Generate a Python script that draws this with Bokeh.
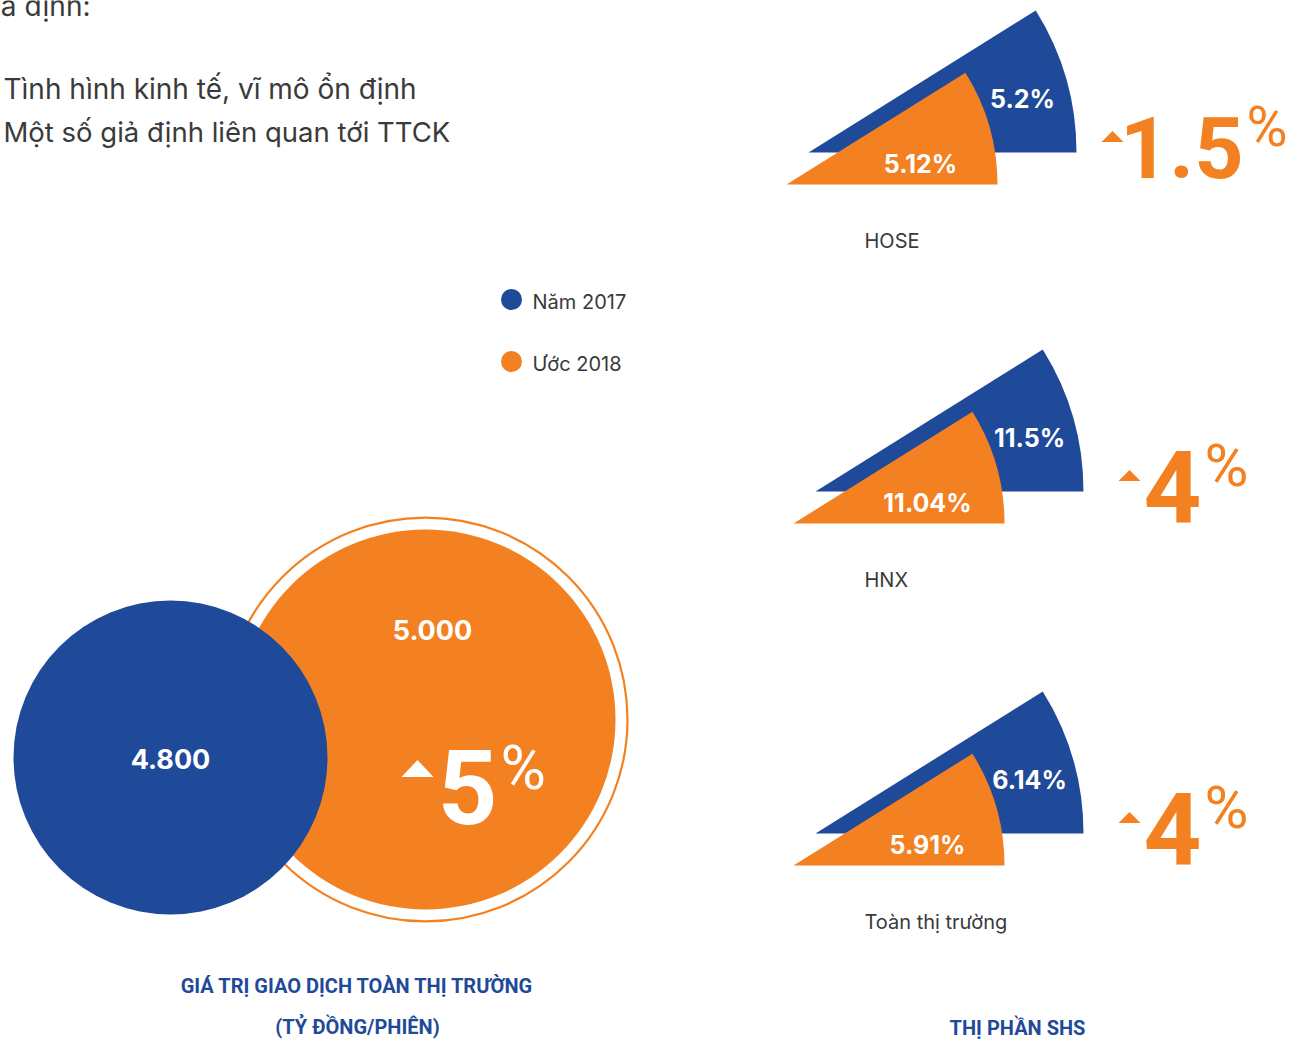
from bokeh.plotting import figure
from bokeh.models import Range1d
from bokeh.embed import file_html
from bokeh.resources import INLINE
from bokeh.core.properties import value
import math

# ---------------- data ----------------
years = ["Năm 2017", "Ước 2018"]
trade_value = [4800, 5000]          # tỷ đồng / phiên
trade_growth = 5                    # %
markets = ["HOSE", "HNX", "Toàn thị trường"]
share_2017 = [5.2, 11.5, 6.14]      # %
share_2018 = [5.12, 11.04, 5.91]    # %
share_growth = [1.5, 4, 4]          # %
intro_lines = ["a định:", "Tình hình kinh tế, vĩ mô ổn định", "Một số giả định liên quan tới TTCK"]
left_title = ["GIÁ TRỊ GIAO DỊCH TOÀN THỊ TRƯỜNG", "(TỶ ĐỒNG/PHIÊN)"]
right_title = "THỊ PHẦN SHS"

# ---------------- style / layout ----------------
BLUE = "#1F4A99"
ORANGE = "#F38121"
GREY = "#3a3a3a"
W, H = 1290, 1043
BODY = "Inter"
COND = "Roboto"


def Y(sy):
    return H - sy


def fmt_thousands(v):
    return f"{v:,}".replace(",", ".")


def fmt_num(v):
    return f"{v:g}"


p = figure(width=W, height=H, x_range=Range1d(0, W), y_range=Range1d(0, H),
           output_backend="svg", toolbar_location=None, x_axis_type=None, y_axis_type=None,
           min_border=0)
p.grid.visible = False
p.outline_line_color = None
p.background_fill_color = "white"
p.border_fill_color = "white"


def txt(x, sy, s, size, color, font=BODY, style="normal", align="left", baseline="middle"):
    p.text(x=[x], y=[Y(sy)], text=[s], text_font=value(font), text_font_size=f"{size}px",
           text_font_style=style, text_color=color, text_align=align, text_baseline=baseline)


def tri(cx, sy, w, h, color):
    cy = Y(sy)
    p.patch([cx - w / 2, cx + w / 2, cx], [cy - h / 2, cy - h / 2, cy + h / 2],
            fill_color=color, line_color=None)


# ---------------- intro text ----------------
txt(90, 5, intro_lines[0], 28, GREY, align="right")
txt(3, 88, intro_lines[1], 28, GREY)
txt(3, 131, intro_lines[2], 27.5, GREY)

# ---------------- legend ----------------
for i, (lab, col) in enumerate(zip(years, [BLUE, ORANGE])):
    sy = 299 + i * 62
    p.circle(x=[511], y=[Y(sy)], radius=10.5, fill_color=col, line_color=None)
    txt(532, sy + 2, lab, 20, GREY)

# ---------------- bubbles ----------------
ocx, ocy = 425, 719
p.circle(x=[ocx], y=[Y(ocy)], radius=202, fill_color=None, line_color=ORANGE, line_width=2.2)
p.circle(x=[ocx], y=[Y(ocy)], radius=190, fill_color=ORANGE, line_color=None)
bcx, bcy = 170, 757
p.circle(x=[bcx], y=[Y(bcy)], radius=157, fill_color=BLUE, line_color=None)

txt(bcx, bcy + 1, fmt_thousands(trade_value[0]), 27, "white", style="bold", align="center")
txt(432, 629, fmt_thousands(trade_value[1]), 27, "white", style="bold", align="center")
tri(417, 768, 32, 17, "white")
txt(497, 786, fmt_num(trade_growth), 104, "white", font=COND, style="bold", align="right")
txt(500, 767, "%", 62, "white", font=COND, align="left")

# ---------------- market share wedges ----------------
base_y = [152, 491, 833]
blue_x = [808, 815, 815]
ANG = math.radians(32)
for i in range(3):
    bx, by = blue_x[i], base_y[i]
    ox, oy = bx - 22, by + 32
    p.wedge(x=[bx], y=[Y(by)], radius=268, start_angle=0, end_angle=ANG,
            fill_color=BLUE, line_color=None)
    p.wedge(x=[ox], y=[Y(oy)], radius=211, start_angle=0, end_angle=ANG,
            fill_color=ORANGE, line_color=None)
    txt(bx + 214, by - 54, f"{share_2017[i]:g}%", 25, "white", style="bold", align="center")
    txt(ox + 134, oy - 21, f"{share_2018[i]:g}%", 25, "white", style="bold", align="center")
    txt(864, by + 88, markets[i], 20, GREY)

    # growth
    if i == 0:
        pct_x, tri_x, num_size, pct_size = 1246, 1112, 86, 56
    else:
        pct_x, tri_x, num_size, pct_size = 1204, 1129, 101, 60
    tri(tri_x, by - 16, 22, 11, ORANGE)
    txt(pct_x - 3, by - 5, fmt_num(share_growth[i]), num_size, ORANGE, font=COND, style="bold",
        align="right")
    txt(pct_x, by - 26, "%", pct_size, ORANGE, font=COND, align="left")

# ---------------- titles ----------------
txt(357, 985, left_title[0], 20, BLUE, font=COND, style="bold", align="center")
txt(357, 1026, left_title[1], 20, BLUE, font=COND, style="bold", align="center")
txt(1017, 1027, right_title, 20, BLUE, font=COND, style="bold", align="center")

open("out.html", "w").write(file_html(p, INLINE))
